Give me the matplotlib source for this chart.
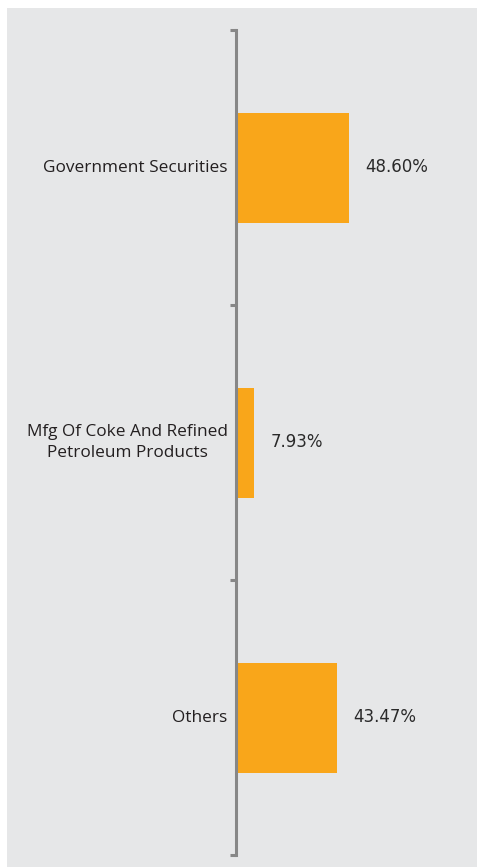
import matplotlib
matplotlib.use("Agg")
import matplotlib.pyplot as plt
from matplotlib.patches import Rectangle

categories = ["Government Securities", "Mfg Of Coke And Refined\nPetroleum Products", "Others"]
values = [48.60, 7.93, 43.47]
value_labels = ["48.60%", "7.93%", "43.47%"]

W, H = 481, 867
fig = plt.figure(figsize=(W/100, H/100), dpi=100)
fig.patch.set_facecolor("white")
bg = Rectangle((7/W, 0), (477-7)/W, (867-8)/H, transform=fig.transFigure,
               facecolor="#e6e7e8", edgecolor="none", zorder=-10)
fig.add_artist(bg)

ax_left, ax_right, ax_top, ax_bottom = 236, 476, 30, 855
ax = fig.add_axes([ax_left/W, 1-ax_bottom/H, (ax_right-ax_left)/W, (ax_bottom-ax_top)/H])
ax.set_zorder(5)
ax.set_facecolor("none")
px_per_unit = 2.325
ax.set_xlim(0, (ax_right-ax_left)/px_per_unit)
ax.set_ylim(2.5, -0.5)

ypos = list(range(len(categories)))
ax.barh(ypos, values, height=0.4, color="#f9a61a", zorder=2)

font = ["Open Sans", "DejaVu Sans"]
for y, v, lab in zip(ypos, values, value_labels):
    ax.annotate(lab, (v, y), xytext=(16, 1), textcoords="offset pixels",
                ha="left", va="center", fontsize=12, color="#2a2a2a",
                family=["DejaVu Sans"])

for s in ["top", "right", "bottom"]:
    ax.spines[s].set_visible(False)
ax.spines["left"].set_color("#878787")
ax.spines["left"].set_linewidth(2.2)
ax.set_xticks([])
ax.set_yticks([-0.5, 0.5, 1.5, 2.5])
ax.set_yticklabels([])
ax.tick_params(axis="y", which="major", length=4.5, width=2.2, color="#878787")
ax.set_yticks(ypos, minor=True)
ax.set_yticklabels(categories, minor=True, fontsize=12.4, color="#231f20", family=font,
                   linespacing=1.45, ha="right", va="center", multialignment="center")
ax.tick_params(axis="y", which="minor", length=0, pad=6)

fig.savefig("out.png", dpi=100, facecolor="white")
